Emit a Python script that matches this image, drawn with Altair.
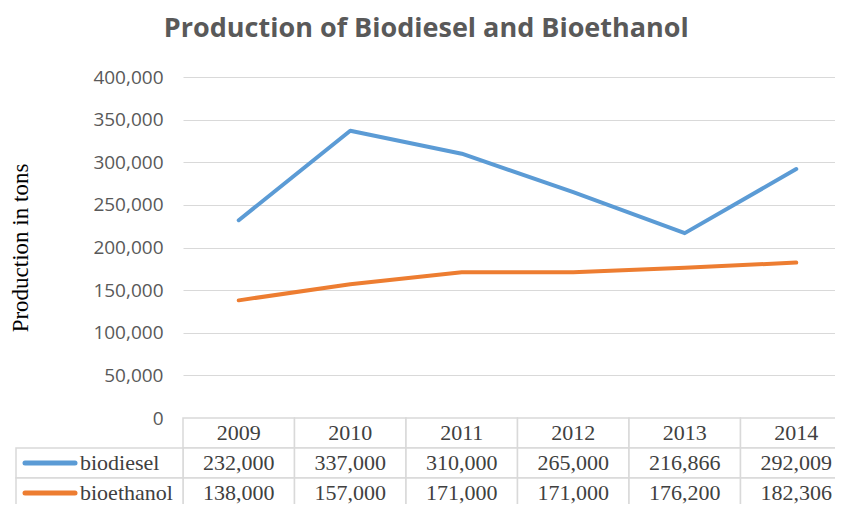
import altair as alt
import pandas as pd

years = ["2009", "2010", "2011", "2012", "2013", "2014"]
biodiesel = [232000, 337000, 310000, 265000, 216866, 292009]
bioethanol = [138000, 157000, 171000, 171000, 176200, 182306]
series_names = ["biodiesel", "bioethanol"]
series_colors = ["#5B9BD5", "#ED7D31"]
y_ticks = [0, 50000, 100000, 150000, 200000, 250000, 300000, 350000, 400000]

rows = []
for name, vals in zip(series_names, [biodiesel, bioethanol]):
    for yr, v in zip(years, vals):
        rows.append({"series": name, "year": yr, "value": v})
df = pd.DataFrame(rows)

table_rows = [{"row": "header", "year": yr, "label": yr} for yr in years]
for r in rows:
    table_rows.append({"row": r["series"], "year": r["year"], "label": f"{r['value']:,}"})
table_df = pd.DataFrame(table_rows)
legend_df = pd.DataFrame({"row": series_names, "series": series_names})

# visible plot width (the reference is cut by the window edge); scale spans a bit more
W_VIS = 652
X_RANGE = [0, 669]
PLOT_H = 341
TABLE_VIS_H = 86
GRID = "#d9d9d9"
color_scale = alt.Scale(domain=series_names, range=series_colors)

top = alt.Chart(df).mark_line(strokeWidth=4, strokeCap="round", strokeJoin="round").encode(
    x=alt.X("year:O", sort=years, axis=None,
            scale=alt.Scale(type="point", padding=0.5, range=X_RANGE)),
    y=alt.Y(
        "value:Q",
        scale=alt.Scale(domain=[0, 400000]),
        axis=alt.Axis(
            values=y_ticks, format=",.0f", title="Production in tons",
            domain=False, ticks=False, grid=True, gridColor=GRID, gridWidth=1.2,
            labelFont="Open Sans", labelFontSize=19, labelColor="#595959", labelPadding=20,
            titleFont="Liberation Serif", titleFontSize=23, titleFontWeight="normal",
            titleColor="#000000", titlePadding=60,
        ),
    ),
    color=alt.Color("series:N", scale=color_scale, legend=None),
).properties(width=W_VIS, height=PLOT_H)

row_order = ["header"] + series_names
xs = alt.X("year:N", sort=years, axis=None,
           scale=alt.Scale(paddingInner=0, paddingOuter=0, range=X_RANGE))
ys = alt.Y("row:N", sort=row_order, axis=None,
           scale=alt.Scale(domain=row_order, paddingInner=0, paddingOuter=0, range=[0, 90]))

cells = alt.Chart(table_df).mark_rect(fill="white", stroke=GRID, strokeWidth=1.5).encode(x=xs, y=ys)
cell_text = alt.Chart(table_df).mark_text(
    font="Liberation Serif", fontSize=22, color="#404040"
).encode(x=xs, y=ys, text="label:N")

leg_cells = alt.Chart(legend_df).mark_rect(fill="white", stroke=GRID, strokeWidth=1.5).encode(
    x=alt.value(-167), x2=alt.value(0), y=ys)
swatch = alt.Chart(legend_df).mark_rule(strokeWidth=5, strokeCap="round").encode(
    x=alt.value(-158), x2=alt.value(-108), y=ys,
    color=alt.Color("series:N", scale=color_scale, legend=None))
leg_text = alt.Chart(legend_df).mark_text(
    align="left", font="Liberation Serif", fontSize=22, color="#404040"
).encode(x=alt.value(-103), y=ys, text="series:N")

bottom = alt.layer(cells, cell_text, leg_cells, swatch, leg_text).properties(
    width=W_VIS, height=TABLE_VIS_H)

chart = alt.vconcat(top, bottom, spacing=0, bounds="flush").properties(
    title=alt.Title(
        "Production of Biodiesel and Bioethanol",
        font="Open Sans", fontSize=27, fontWeight="bold", color="#595959",
        anchor="middle", offset=25, dx=-5,
    ),
    autosize=alt.AutoSizeParams(type="none"),
    padding={"left": 175, "top": 69, "right": 0, "bottom": PLOT_H + TABLE_VIS_H},
).configure_view(stroke=None)

chart.save("out.html", embed_options={"renderer": "svg", "actions": False})
